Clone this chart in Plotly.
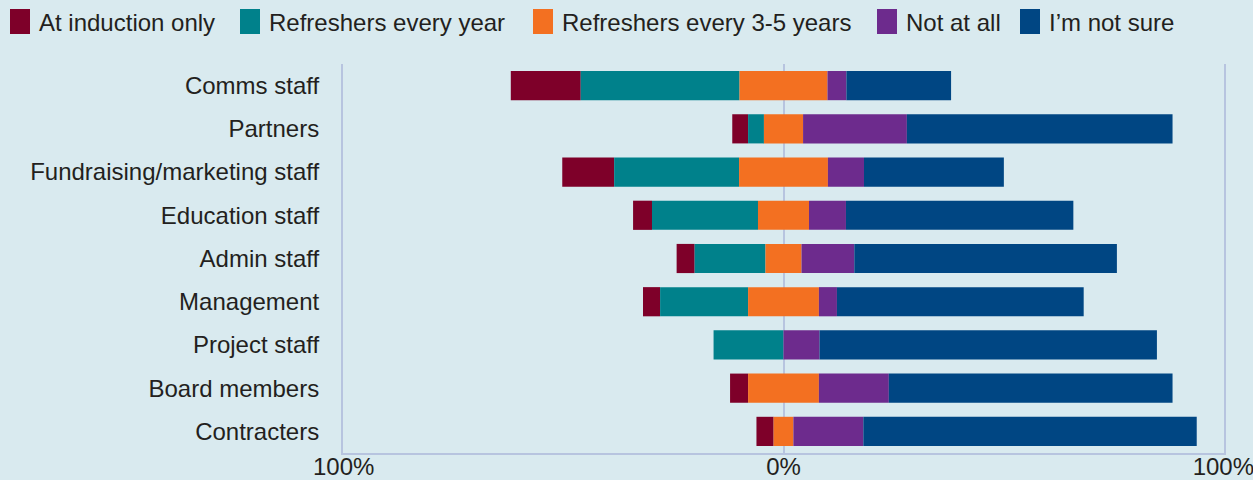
import numpy as np
import plotly.graph_objects as go

categories = ["Comms staff", "Partners", "Fundraising/marketing staff", "Education staff",
              "Admin staff", "Management", "Project staff", "Board members", "Contracters"]
series_names = ["At induction only", "Refreshers every year", "Refreshers every 3-5 years",
                "Not at all", "I\u2019m not sure"]
induction = [15.9, 3.6, 11.8, 4.3, 4.1, 3.9, 0.0, 4.1, 3.9]
every_year = [36.1, 3.6, 28.4, 24.1, 16.1, 20.0, 15.9, 0.0, 0.0]
every_3_5 = [20.0, 8.9, 20.2, 11.6, 8.2, 16.1, 0.0, 16.1, 4.5]
not_at_all = [4.3, 23.6, 8.2, 8.4, 12.0, 4.1, 8.2, 15.9, 15.9]
not_sure = [23.8, 60.4, 31.8, 51.7, 59.7, 56.1, 76.7, 64.5, 75.8]
tick_vals = [-100, 0, 100]
tick_text = ["100%", "0%", "100%"]

colors = ["#7E0029", "#00818B", "#F37021", "#6D2B8D", "#004683"]
BG = "#D9EAEF"
GRID = "#B7C4DF"
TXT = "#231F20"
FONT = "Liberation Sans, Arial, Helvetica, sans-serif"

vals = np.array([induction, every_year, every_3_5, not_at_all, not_sure], dtype=float)
start = -(vals[0] + vals[1] + vals[2] / 2.0)
bases = start + np.vstack([np.zeros(len(categories)), np.cumsum(vals, axis=0)[:-1]])

fig = go.Figure()
for i, name in enumerate(series_names):
    fig.add_trace(go.Bar(
        y=categories, x=vals[i], base=bases[i], orientation="h", name=name,
        marker=dict(color=colors[i], line=dict(width=0)), showlegend=False,
    ))

# custom legend (large square swatches)
L, R, T, B = 343, 29, 64, 27
W, H = 1253, 480
pw, ph = W - L - R, H - T - B
def px(x):
    return (x - L) / pw
def py(y):
    return (H - B - y) / ph

swatch_x = [10, 240, 533, 877, 1020]
shapes = []
annotations = []
for i, name in enumerate(series_names):
    shapes.append(dict(type="rect", xref="paper", yref="paper",
                       x0=px(swatch_x[i]), x1=px(swatch_x[i] + 20),
                       y0=py(34), y1=py(9), fillcolor=colors[i], line=dict(width=0)))
    annotations.append(dict(xref="paper", yref="paper", x=px(swatch_x[i] + 27), y=py(22),
                            xanchor="left", yanchor="middle", text=name, showarrow=False,
                            font=dict(size=24, color=TXT, family=FONT)))

fig.update_layout(
    width=W, height=H,
    barmode="overlay", bargap=0.325,
    paper_bgcolor=BG, plot_bgcolor=BG,
    margin=dict(l=L, r=R, t=T, b=B, pad=0),
    font=dict(family=FONT, size=24, color=TXT),
    showlegend=False,
    shapes=shapes, annotations=annotations,
    xaxis=dict(range=[-100.15, 100.15], tickvals=tick_vals, ticktext=tick_text,
               showgrid=True, gridcolor=GRID, gridwidth=2, zeroline=False,
               showline=True, linecolor=GRID, linewidth=2, layer="above traces",
               ticklabelstandoff=-9, ticklabeloverflow="allow",
               tickfont=dict(size=24, color=TXT), fixedrange=True, automargin=False),
    yaxis=dict(categoryorder="array", categoryarray=categories, autorange="reversed",
               showgrid=False, zeroline=False, showline=True, mirror=True,
               linecolor=GRID, linewidth=2, ticks="", ticklabelstandoff=17,
               tickfont=dict(size=24, color=TXT), fixedrange=True, automargin=False),
)

fig.write_html("out.html")
